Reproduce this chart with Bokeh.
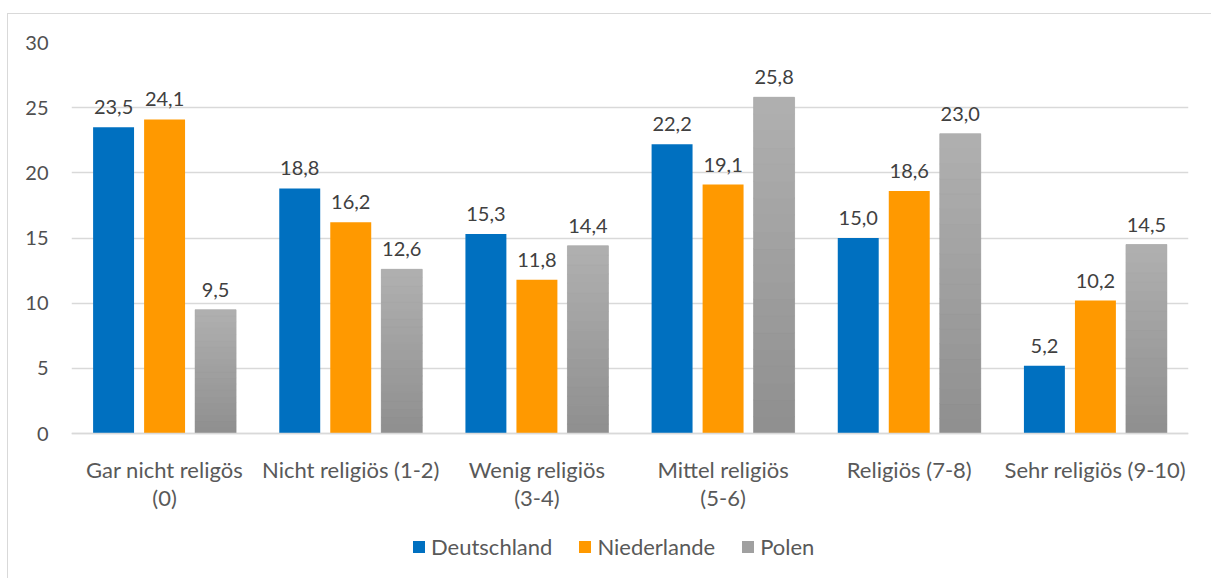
from bokeh.plotting import figure
from bokeh.models import ColumnDataSource, FactorRange, Range1d, Legend, LegendItem, FixedTicker
from bokeh.transform import dodge
from bokeh.core.properties import value
from bokeh.embed import file_html
from bokeh.resources import INLINE

categories = ["Gar nicht religös\n(0)", "Nicht religiös (1-2)", "Wenig religiös\n(3-4)",
              "Mittel religiös\n(5-6)", "Religiös (7-8)", "Sehr religiös (9-10)"]
deutschland = [23.5, 18.8, 15.3, 22.2, 15.0, 5.2]
niederlande = [24.1, 16.2, 11.8, 19.1, 18.6, 10.2]
polen = [9.5, 12.6, 14.4, 25.8, 23.0, 14.5]
series_names = ["Deutschland", "Niederlande", "Polen"]
y_ticks = [0, 5, 10, 15, 20, 25, 30]

colors = ["#0070C0", "#FF9900", "#A0A0A0"]
offsets = [-0.274, 0.0, 0.274]
FONT = "Lato"
BAR_W = 0.22

# frame: 0 at px 433, 30 at px 42 -> 13.033 px/unit; frame bottom at px 575
y_lo = -(575 - 433) / (391 / 30)

p = figure(x_range=FactorRange(*categories), y_range=Range1d(y_lo, 30),
           width=1204, height=565, output_backend="svg", toolbar_location=None,
           min_border_left=63, min_border_right=24, min_border_top=28, min_border_bottom=4)
p.margin = (13, 0, 0, 7)
p.styles = {"border-top": "1px solid #D9D9D9", "border-left": "1px solid #D9D9D9"}
p.outline_line_color = None
p.background_fill_color = "white"
p.border_fill_color = "white"

p.xgrid.grid_line_color = None
p.ygrid.ticker = FixedTicker(ticks=y_ticks)
p.ygrid.grid_line_color = "#D9D9D9"
p.ygrid.grid_line_width = 1.3
p.yaxis.ticker = FixedTicker(ticks=y_ticks)
p.yaxis.axis_line_color = None
p.yaxis.major_tick_line_color = None
p.yaxis.minor_tick_line_color = None
p.yaxis.major_label_standoff = 17
p.yaxis.major_label_text_font = FONT
p.yaxis.major_label_text_font_size = "20px"
p.yaxis.major_label_text_color = "#505050"

p.xaxis.fixed_location = 0
p.xaxis.axis_line_color = "#D9D9D9"
p.xaxis.axis_line_width = 1.5
p.xaxis.major_tick_line_color = None
p.xaxis.minor_tick_line_color = None
p.xaxis.major_label_standoff = 16
p.xaxis.major_label_text_font = FONT
p.xaxis.major_label_text_font_size = "22px"
p.xaxis.major_label_text_color = "#595959"
p.xaxis.major_label_text_line_height = 1.06

items = []
for i, (name, vals, col, off) in enumerate(zip(series_names, [deutschland, niederlande, polen], colors, offsets)):
    src = ColumnDataSource(dict(cat=categories, v=vals,
                                lbl=[f"{x:.1f}".replace(".", ",") for x in vals]))
    r = p.vbar(x=dodge("cat", off, range=p.x_range), top="v", width=BAR_W, source=src,
               fill_color=col, line_color=None)
    if i == 2:
        # vertical gradient (light top -> darker bottom), drawn as bands over each bar
        n = 20
        c_top, c_bot = (0xB0, 0xB0, 0xB0), (0x8F, 0x8F, 0x8F)
        bx, bb, bt, bc = [], [], [], []
        for cat, v in zip(categories, vals):
            for k in range(n):
                f = (k + 0.5) / n  # 0 bottom -> 1 top
                rgb = tuple(int(round(c_bot[j] + (c_top[j] - c_bot[j]) * f)) for j in range(3))
                bx.append(cat)
                bb.append(v * k / n)
                bt.append(v * (k + 1) / n)
                bc.append("#%02X%02X%02X" % rgb)
        gsrc = ColumnDataSource(dict(cat=bx, b=bb, t=bt, c=bc))
        p.vbar(x=dodge("cat", off, range=p.x_range), bottom="b", top="t", width=BAR_W,
               source=gsrc, fill_color="c", line_color="c", line_width=0.6)
    p.text(x=dodge("cat", off, range=p.x_range), y="v", text="lbl", source=src,
           text_align="center", text_baseline="alphabetic", y_offset=-20,
           text_font=value(FONT), text_font_size="20px", text_color="#404040")
    items.append(LegendItem(label=name, renderers=[r]))

legend = Legend(items=items, orientation="horizontal", location=(340, 15),
                glyph_width=15, glyph_height=15, label_standoff=5, spacing=25,
                padding=0, margin=0, border_line_color=None, background_fill_alpha=0,
                label_text_font=FONT, label_text_font_size="22px", label_text_color="#595959")
p.add_layout(legend, "center")

open("out.html", "w").write(file_html(p, INLINE))
